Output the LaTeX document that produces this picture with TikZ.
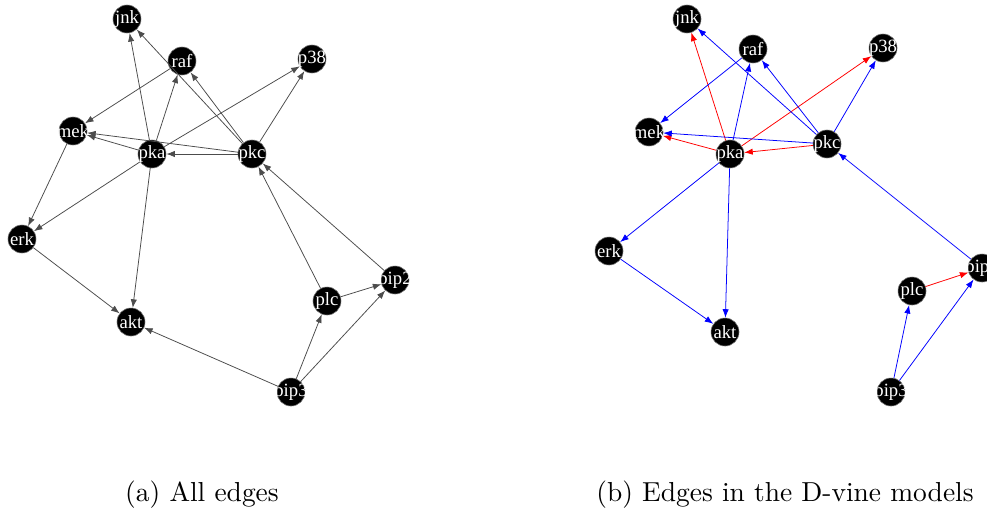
\documentclass[tikz,border=0pt]{standalone}
\usepackage{fontspec}
\newfontfamily\genefont{Liberation Serif}
\usetikzlibrary{arrows.meta}
\begin{document}
\begin{tikzpicture}[x=0.364pt,y=-0.364pt,
  gene/.style={circle,fill=black,draw=black!55,line width=0.2pt,minimum size=10.2pt,inner sep=0pt,
    text=white,font=\genefont\fontsize{6.8}{7}\selectfont},
  edge/.style={line width=0.28pt,-{Latex[length=3.1pt,width=2.3pt]}},
  alledge/.style={edge,black!70},
  redge/.style={edge,red},
  bedge/.style={edge,blue}]
  \useasboundingbox (0,0) rectangle (987,511);
  \clip (0,0) rectangle (987,511);
  % (a) all edges
  \foreach \n/\x/\y in {jnk/127/19,raf/182/61,p38/312/59,mek/73/131,pka/152/154,pkc/252/154,
     erk/22/239,akt/131/322,plc/327/301,pip2/395/280,pip3/291/392}
    \node[gene] (a\n) at (\x,\y) {\makebox[0pt]{\n}};
  \foreach \s/\t in {pka/jnk,pkc/jnk,pkc/raf,pka/raf,raf/mek,pka/p38,pkc/p38,pka/mek,pkc/mek,pkc/pka,
     mek/erk,pka/erk,pka/akt,erk/akt,pip3/akt,pip3/plc,pip3/pip2,plc/pip2,plc/pkc,pip2/pkc}
    \draw[alledge] (a\s) -- (a\t);
  \node[anchor=base] (acap) at (202,501) {(a) All edges};
  % (b) edges in the D-vine models
  \foreach \n/\x/\y in {jnk/687/19,raf/753/49,p38/883/48,mek/649/132,pka/730/154,pkc/827/144,
     erk/609/251,akt/725/332,plc/912/291,pip2/982/268,pip3/891/392}
    \node[gene] (b\n) at (\x,\y) {\makebox[0pt]{\n}};
  \foreach \s/\t in {pka/jnk,pka/p38,pka/mek,pkc/pka,plc/pip2}
    \draw[redge] (b\s) -- (b\t);
  \foreach \s/\t in {pkc/jnk,pkc/raf,pka/raf,raf/mek,pkc/p38,pkc/mek,pka/erk,erk/akt,pka/akt,
     pip2/pkc,pip3/plc,pip3/pip2}
    \draw[bedge] (b\s) -- (b\t);
  \node[anchor=base] (bcap) at (785,501) {(b) Edges in the D-vine models};
\end{tikzpicture}
\end{document}
